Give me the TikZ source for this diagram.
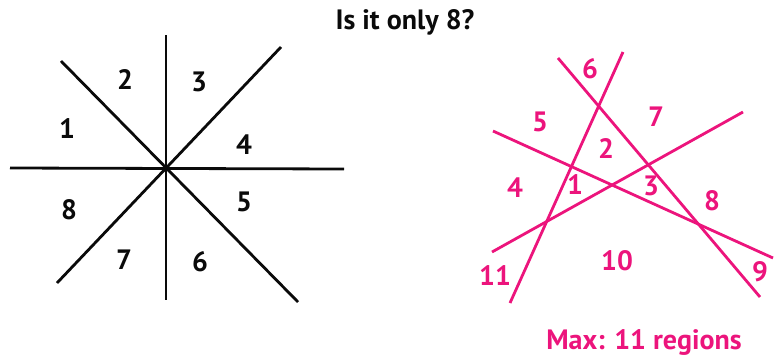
\documentclass[tikz,border=0pt]{standalone}
\usepackage{fontspec}
\setmainfont{PT Sans}
\usepackage{tikz}
\usetikzlibrary{positioning}
\definecolor{mydark}{RGB}{10,10,10}
\definecolor{mypink}{RGB}{236,20,124}
\tikzset{
  blackline/.style={line width=2.8pt, color=mydark},
  pinkline/.style={line width=2.8pt, color=mypink},
  numlabel/.style={font=\bfseries\fontsize{28}{28}\selectfont, text=mydark},
  pinklabel/.style={font=\bfseries\fontsize{28}{28}\selectfont, text=mypink}
}
\begin{document}
\begin{tikzpicture}[x=1pt, y=-1pt]
  \useasboundingbox (0,0) rectangle (774,362);

  % Title
  \node[numlabel] (title) at (405,22) {Is it only 8?};

  % Four lines through one point
  \coordinate (c) at (166,168);
  \draw[blackline] (10,168) -- (344,169);
  \draw[blackline] (166,35) -- (166,300);
  \draw[blackline] (61,61) -- (298,302);
  \draw[blackline] (57,283) -- (281,47);

  % Regions (left)
  \node[numlabel] (l1) at (67,129) {1};
  \node[numlabel] (l2) at (125,80) {2};
  \node[numlabel] (l3) at (199,82) {3};
  \node[numlabel] (l4) at (244,145) {4};
  \node[numlabel] (l5) at (244,202) {5};
  \node[numlabel] (l6) at (200,262) {6};
  \node[numlabel] (l7) at (124,260) {7};
  \node[numlabel] (l8) at (69,210) {8};

  % Four lines in general position
  \draw[pinkline] (558,58) -- (760,297);
  \draw[pinkline] (623,52) -- (510,303);
  \draw[pinkline] (493,131) -- (773,258);
  \draw[pinkline] (492,252) -- (743,112);

  % Regions (right)
  \node[pinklabel] (r1) at (575,185) {1};
  \node[pinklabel] (r2) at (606,149) {2};
  \node[pinklabel] (r3) at (651,186) {3};
  \node[pinklabel] (r4) at (515,188) {4};
  \node[pinklabel] (r5) at (540,122) {5};
  \node[pinklabel] (r6) at (590,69) {6};
  \node[pinklabel] (r7) at (656,117) {7};
  \node[pinklabel] (r8) at (712,201) {8};
  \node[pinklabel] (r9) at (760,272) {9};
  \node[pinklabel] (r10) at (617,261) {10};
  \node[pinklabel] (r11) at (495,276) {11};

  % Result
  \node[pinklabel] (result) at (644,342) {Max: 11 regions};
\end{tikzpicture}
\end{document}
